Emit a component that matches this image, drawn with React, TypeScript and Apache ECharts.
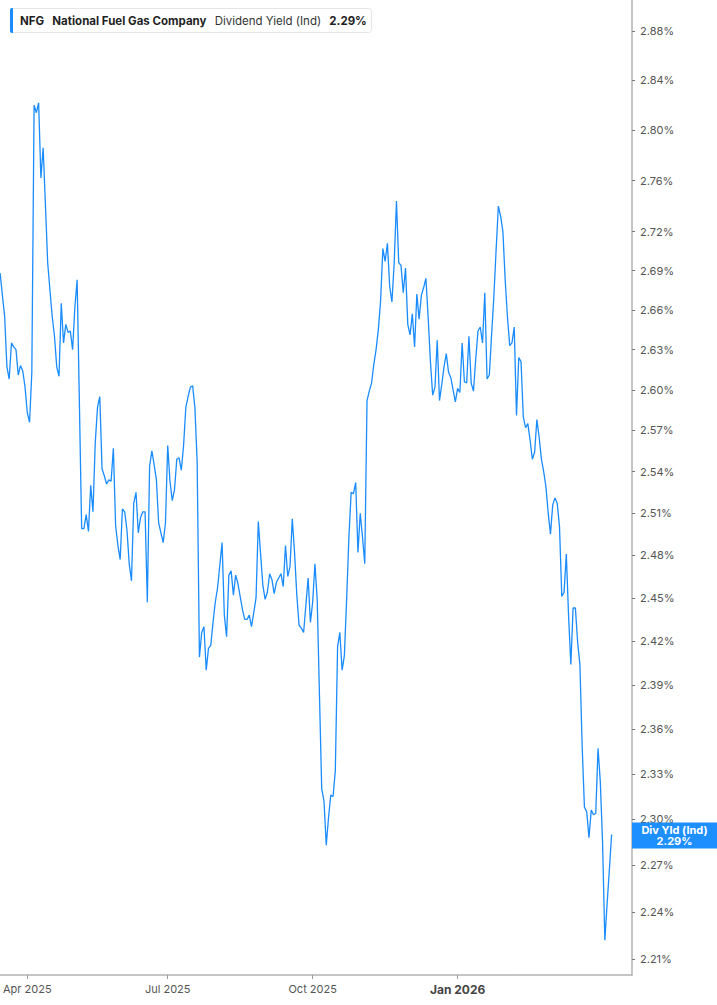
import { useEffect, useRef } from 'react';
import * as echarts from 'echarts';

// trading calendar (NYSE holidays inside the range)
const START_DATE = '2025-03-14';
const AXIS_DAYS = 280; // axis runs a little past the last close
const HOLIDAYS = [
    '2025-04-18', '2025-05-26', '2025-06-19', '2025-07-04', '2025-09-01',
    '2025-11-27', '2025-12-25', '2026-01-01', '2026-01-19', '2026-02-16', '2026-04-03'
];
const MONTHS = ['Jan', 'Feb', 'Mar', 'Apr', 'May', 'Jun', 'Jul', 'Aug', 'Sep', 'Oct', 'Nov', 'Dec'];
const xTickLabels = ['Apr 2025', 'Jul 2025', 'Oct 2025', 'Jan 2026'];

// NFG dividend yield (ind), %, one value per trading day
const divYield = [
    2.688, 2.671, 2.655, 2.617, 2.608, 2.635, 2.632, 2.630, 2.611, 2.618,
    2.614, 2.602, 2.583, 2.576, 2.613, 2.820, 2.814, 2.822, 2.762, 2.786,
    2.741, 2.696, 2.675, 2.655, 2.640, 2.617, 2.610, 2.665, 2.635, 2.649,
    2.643, 2.644, 2.630, 2.662, 2.683, 2.590, 2.499, 2.499, 2.509, 2.497,
    2.530, 2.511, 2.561, 2.587, 2.595, 2.542, 2.537, 2.531, 2.534, 2.533,
    2.557, 2.501, 2.487, 2.477, 2.513, 2.511, 2.498, 2.474, 2.462, 2.517,
    2.525, 2.496, 2.507, 2.511, 2.511, 2.447, 2.544, 2.555, 2.545, 2.534,
    2.503, 2.496, 2.489, 2.503, 2.559, 2.533, 2.519, 2.527, 2.549, 2.550,
    2.541, 2.559, 2.587, 2.595, 2.602, 2.603, 2.587, 2.547, 2.409, 2.426,
    2.430, 2.400, 2.415, 2.417, 2.433, 2.447, 2.457, 2.473, 2.489, 2.438,
    2.423, 2.466, 2.469, 2.452, 2.466, 2.460, 2.451, 2.442, 2.435, 2.435,
    2.438, 2.430, 2.440, 2.450, 2.504, 2.481, 2.459, 2.449, 2.454, 2.467,
    2.463, 2.453, 2.461, 2.464, 2.467, 2.458, 2.487, 2.465, 2.472, 2.506,
    2.482, 2.452, 2.431, 2.429, 2.426, 2.445, 2.464, 2.433, 2.447, 2.474,
    2.449, 2.383, 2.320, 2.312, 2.283, 2.301, 2.316, 2.315, 2.332, 2.416,
    2.426, 2.400, 2.410, 2.449, 2.493, 2.525, 2.524, 2.532, 2.482, 2.510,
    2.493, 2.474, 2.592, 2.599, 2.605, 2.619, 2.630, 2.645, 2.667, 2.707,
    2.697, 2.711, 2.678, 2.666, 2.696, 2.744, 2.696, 2.694, 2.673, 2.692,
    2.649, 2.641, 2.657, 2.632, 2.672, 2.653, 2.671, 2.677, 2.684, 2.654,
    2.621, 2.596, 2.602, 2.637, 2.592, 2.604, 2.617, 2.627, 2.613, 2.609,
    2.600, 2.591, 2.601, 2.598, 2.635, 2.606, 2.605, 2.640, 2.605, 2.599,
    2.623, 2.644, 2.647, 2.635, 2.673, 2.608, 2.611, 2.641, 2.670, 2.706,
    2.740, 2.732, 2.720, 2.683, 2.655, 2.633, 2.635, 2.647, 2.581, 2.624,
    2.621, 2.580, 2.572, 2.575, 2.563, 2.549, 2.554, 2.578, 2.565, 2.549,
    2.540, 2.529, 2.510, 2.495, 2.516, 2.521, 2.517, 2.500, 2.451, 2.454,
    2.481, 2.437, 2.404, 2.443, 2.443, 2.419, 2.404, 2.348, 2.308, 2.305,
    2.288, 2.306, 2.303, 2.304, 2.347, 2.325, 2.285, 2.222, 2.245, 2.267,
    2.290
];

const yTicks = [
    2.88, 2.84, 2.80, 2.76, 2.72, 2.69, 2.66, 2.63, 2.60, 2.57, 2.54,
    2.51, 2.48, 2.45, 2.42, 2.39, 2.36, 2.33, 2.30, 2.27, 2.24, 2.21
];
const Y_MIN = 2.2;
const Y_MAX = 2.906;
const LAST_YIELD = 2.29;

const LINE_BLUE = '#1a8cff';
const FONT = 'Inter, "Noto Sans", sans-serif';

function buildTradingDays(start: string, count: number): string[] {
    const out: string[] = [];
    const d = new Date(start + 'T00:00:00Z');
    while (out.length < count) {
        const dow = d.getUTCDay();
        const iso = d.toISOString().slice(0, 10);
        if (dow !== 0 && dow !== 6 && !HOLIDAYS.includes(iso)) out.push(iso);
        d.setUTCDate(d.getUTCDate() + 1);
    }
    return out;
}

const dates = buildTradingDays(START_DATE, AXIS_DAYS);

const monthLabel = (iso: string) =>
    `${MONTHS[Number(iso.slice(5, 7)) - 1]} ${iso.slice(0, 4)}`;

// first trading day of a labelled quarter
const isQuarterStart = (index: number): boolean => {
    if (index === 0) return false;
    const label = monthLabel(dates[index]);
    return label !== monthLabel(dates[index - 1]) && xTickLabels.includes(label);
};

const App = () => {
    const chartRef = useRef<HTMLDivElement>(null);

    useEffect(() => {
        if (!chartRef.current) return;
        const chart = echarts.init(chartRef.current, null, { renderer: 'svg' });
        const logTicks = yTicks.map(Math.log);

        chart.setOption({
            animation: false,
            backgroundColor: '#fff',
            textStyle: { fontFamily: FONT },
            title: {
                left: 10,
                top: 8,
                padding: [6, 5, 6, 10],
                backgroundColor: '#fff',
                borderColor: '#e4e4e4',
                borderWidth: 1,
                borderRadius: 3,
                text: '{b|NFG}   {b|National Fuel Gas Company}   {n|Dividend Yield (Ind)}   {b|2.29%}',
                textStyle: {
                    fontFamily: FONT,
                    fontSize: 11.5,
                    lineHeight: 13,
                    color: '#222',
                    rich: {
                        b: { fontFamily: FONT, fontSize: 11.5, fontWeight: 'bold', color: '#1f1f1f' },
                        n: { fontFamily: FONT, fontSize: 11.5, fontWeight: 'normal', color: '#333' }
                    }
                },
                z: 10
            },
            graphic: [
                {
                    type: 'rect',
                    left: 10,
                    top: 8,
                    shape: { width: 3, height: 25, r: [2, 0, 0, 2] },
                    style: { fill: LINE_BLUE },
                    z: 100
                }
            ],
            grid: { left: 0, right: 85, top: 0, bottom: 30, containLabel: false },
            xAxis: {
                type: 'category',
                data: dates,
                boundaryGap: false,
                axisLine: { lineStyle: { color: '#b3b3b3', width: 1.5 } },
                axisTick: {
                    show: true,
                    interval: (i: number) => isQuarterStart(i),
                    length: 4,
                    lineStyle: { color: '#9a9a9a' }
                },
                axisLabel: {
                    interval: (i: number) => isQuarterStart(i),
                    margin: 8,
                    color: '#555',
                    fontFamily: FONT,
                    fontSize: 11,
                    formatter: (value: string) => {
                        const text = monthLabel(value);
                        return value.slice(5, 7) === '01' ? `{yr|${text}}` : text;
                    },
                    rich: {
                        yr: { fontFamily: FONT, fontSize: 12, fontWeight: 'bold', color: '#444' }
                    }
                },
                splitLine: { show: false }
            },
            yAxis: {
                type: 'value',
                position: 'right',
                min: Math.log(Y_MIN),
                max: Math.log(Y_MAX),
                axisLine: { show: true, lineStyle: { color: '#b3b3b3', width: 1.5 } },
                axisTick: {
                    show: true,
                    customValues: logTicks,
                    length: 3,
                    lineStyle: { color: '#777' }
                },
                axisLabel: {
                    customValues: logTicks,
                    margin: 8,
                    color: '#555',
                    fontFamily: FONT,
                    fontSize: 11,
                    formatter: (v: number) => `${Math.exp(v).toFixed(2)}%`
                },
                splitLine: { show: false }
            },
            series: [
                {
                    type: 'line',
                    name: 'Div Yld (Ind)',
                    data: divYield.map(Math.log),
                    symbol: 'none',
                    clip: false,
                    lineStyle: { color: LINE_BLUE, width: 1.3 },
                    itemStyle: { color: LINE_BLUE },
                    markLine: {
                        silent: true,
                        symbol: 'none',
                        lineStyle: { color: 'rgba(0,0,0,0)', width: 0 },
                        data: [{ yAxis: Math.log(LAST_YIELD) }],
                        label: {
                            show: true,
                            position: 'end',
                            distance: 0,
                            offset: [0, 6],
                            width: 77,
                            padding: [2, 4, 2, 4],
                            backgroundColor: '#1e8fff',
                            formatter: `{t|Div Yld (Ind)}\n{t|${LAST_YIELD.toFixed(2)}%}`,
                            rich: {
                                t: {
                                    align: 'center',
                                    fontFamily: FONT,
                                    fontSize: 11,
                                    fontWeight: 'bold',
                                    lineHeight: 11,
                                    color: '#fff'
                                }
                            }
                        },
                        z: 20
                    }
                }
            ]
        });

        return () => {
            chart.dispose();
        };
    }, []);

    return (
        <div
            ref={chartRef}
            style={{ position: 'absolute', left: 0, top: 0, width: 717, height: 1005 }}
        />
    );
};

export default App;
